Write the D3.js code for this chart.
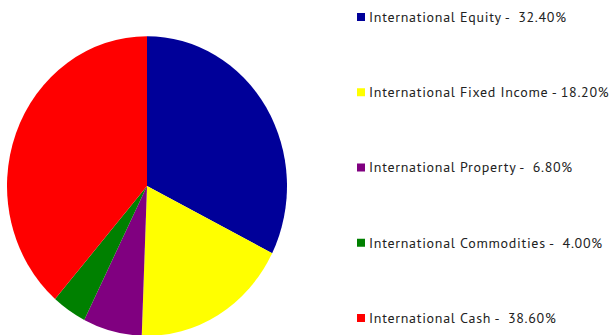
<!DOCTYPE html>
<html>
<head>
<meta charset="utf-8">
<script src="https://cdn.jsdelivr.net/npm/d3@7"></script>
<style>
  body { margin: 0; background: #fff; }
  text { font-family: "PT Sans", "Noto Sans", sans-serif; white-space: pre; letter-spacing: 0.7px; }
</style>
</head>
<body>
<div id="container"></div>
<script>
// Chart data
var labels = ['International Equity', 'International Fixed Income', 'International Property',
  'International Commodities', 'International Cash'];
var values = [32.40, 18.20, 6.80, 4.00, 38.60];
// spacing between name and value as it appears in the legend
var gaps = ['  ', ' ', '  ', '  ', '  '];
var colours = ['#000099', '#ffff00', '#800080', '#008000', '#ff0000'];

var width = 613,
  height = 335;

var svg = d3.select('#container').append('svg').attr('width', width).attr('height', height);

var colour = d3.scaleOrdinal().domain(labels).range(colours);

var pie = d3.pie().sort(null).value(function (d, i) { return values[i]; });
var arc = d3.arc().innerRadius(0).outerRadius(140);

// the pie is a little taller than wide
var pieG = svg.append('g').attr('transform', 'translate(147,186) scale(1,1.07)');

pieG.selectAll('path')
  .data(pie(labels))
  .enter()
  .append('path')
  .attr('d', arc)
  .attr('fill', function (d) { return colour(d.data); });

// Legend
var legendY = d3.scalePoint().domain(labels).range([17, 318]);

var legend = svg.append('g').attr('id', 'legend');

legend.selectAll('g').data(labels).enter().append('g').each(function (d, i) {
  var g = d3.select(this);
  var y = legendY(d);
  g.append('rect')
    .attr('x', 357)
    .attr('y', y - 4)
    .attr('width', 8)
    .attr('height', 8)
    .style('fill', colour(d));
  g.append('text')
    .attr('x', 369)
    .attr('y', y)
    .attr('dy', '0.35em')
    .attr('font-size', 14)
    .attr('fill', '#222')
    .text(d + ' -' + gaps[i] + values[i].toFixed(2) + '%');
});
</script>
</body>
</html>
